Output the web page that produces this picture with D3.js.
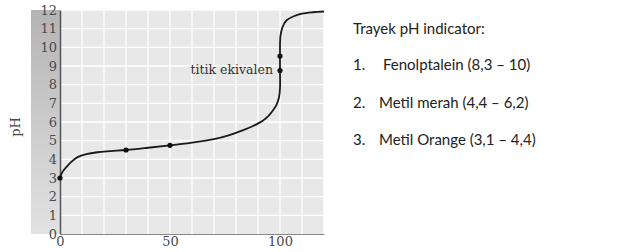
<!DOCTYPE html>
<html>
<head>
<meta charset="utf-8">
<script src="https://cdn.jsdelivr.net/npm/d3@7"></script>
<style>
  body { margin: 0; background: #fff; }
  svg { display: block; }
</style>
</head>
<body>
<svg id="chart" width="629" height="252"></svg>
<script>
// titration curve (volume added, pH)
var curveX = [0, 1, 3, 5, 8, 12, 17, 23, 30, 40, 50, 60, 70, 77, 83, 88, 92, 95, 97, 98.5, 99.5, 100, 100, 100, 100.2, 101.2, 103, 106, 110, 115, 120];
var curveY = [3, 3.3, 3.6, 3.85, 4.12, 4.28, 4.38, 4.44, 4.5, 4.62, 4.75, 4.9, 5.08, 5.3, 5.55, 5.8, 6.05, 6.35, 6.65, 6.95, 7.3, 7.8, 8.76, 9.53, 10.6, 11.1, 11.45, 11.65, 11.8, 11.88, 11.92];
var dotX = [0, 30, 50, 100, 100];
var dotY = [3, 4.5, 4.75, 8.76, 9.53];
var xTicks = [0, 50, 100];
var yTicks = [0, 1, 2, 3, 4, 5, 6, 7, 8, 9, 10, 11, 12];
var xGrid = d3.range(0, 121, 10);
var eqLabel = "titik ekivalen";
var notesTitle = "Trayek pH indicator:";
var notesNum = ["1.", "2.", "3."];
var notesText = ["Fenolptalein (8,3 \u2013 10)", "Metil merah (4,4 \u2013 6,2)", "Metil Orange (3,1 \u2013 4,4)"];

var svg = d3.select("#chart");
var x = d3.scaleLinear().domain([0, 120]).range([60, 324]);
var y = d3.scaleLinear().domain([0, 12]).range([234, 10]);

// gray strip gradient behind the y labels
var grad = svg.append("defs").append("linearGradient")
    .attr("id", "strip").attr("x1", 0).attr("y1", 0).attr("x2", 0).attr("y2", 1);
grad.append("stop").attr("offset", "0%").attr("stop-color", "#b4b4b4");
grad.append("stop").attr("offset", "100%").attr("stop-color", "#e2e2e2");

svg.append("rect")
    .attr("x", 31).attr("y", y(12)).attr("width", x(0) - 31).attr("height", y(0) - y(12))
    .attr("fill", "url(#strip)");

svg.append("rect")
    .attr("x", x(0)).attr("y", y(12)).attr("width", x(120) - x(0)).attr("height", y(0) - y(12))
    .attr("fill", "#e8e8e8");

// grid
svg.append("g").selectAll("line").data(xGrid.slice(1)).join("line")
    .attr("x1", d => x(d)).attr("x2", d => x(d))
    .attr("y1", y(12)).attr("y2", y(0))
    .attr("stroke", "#fff").attr("stroke-width", 1.3);
svg.append("g").selectAll("line").data(yTicks.slice(1)).join("line")
    .attr("x1", x(0)).attr("x2", x(120))
    .attr("y1", d => y(d)).attr("y2", d => y(d))
    .attr("stroke", "#fff").attr("stroke-width", 1.3);

// axes
var yAxis = svg.append("g")
    .attr("transform", "translate(" + x(0) + ",0)")
    .call(d3.axisLeft(y).tickValues(yTicks).tickSize(0).tickPadding(3));
var xAxis = svg.append("g")
    .attr("transform", "translate(0," + y(0) + ")")
    .call(d3.axisBottom(x).tickValues(xTicks).tickSize(0).tickPadding(3));
yAxis.select(".domain").attr("stroke", "#555").attr("stroke-width", 1.5);
xAxis.select(".domain").attr("stroke", "#888").attr("stroke-width", 1.2);
svg.selectAll(".tick text")
    .attr("font-family", "DejaVu Serif, serif").attr("font-size", 13).attr("fill", "#4a4a4a");

svg.append("text")
    .attr("transform", "translate(20,127) rotate(-90)")
    .attr("text-anchor", "middle")
    .attr("font-family", "DejaVu Serif, serif").attr("font-size", 13).attr("fill", "#4a4a4a")
    .text("pH");

// curve
var pts = curveX.map((d, i) => [d, curveY[i]]);
svg.append("path")
    .datum(pts)
    .attr("d", d3.line().x(d => x(d[0])).y(d => y(d[1])).curve(d3.curveCatmullRom.alpha(0.5)))
    .attr("fill", "none").attr("stroke", "#1a1a1a").attr("stroke-width", 1.8);

svg.append("g").selectAll("circle").data(dotX).join("circle")
    .attr("cx", d => x(d)).attr("cy", (d, i) => y(dotY[i])).attr("r", 2.6)
    .attr("fill", "#111");

svg.append("text")
    .attr("x", x(100) - 7).attr("y", y(dotY[3]) + 4)
    .attr("text-anchor", "end")
    .attr("font-family", "DejaVu Serif, serif").attr("font-size", 12.5).attr("fill", "#333")
    .text(eqLabel);

// indicator notes
var notes = svg.append("g")
    .attr("font-family", "Lato, sans-serif").attr("font-size", 15).attr("fill", "#222");
notes.append("text").attr("x", 353).attr("y", 34).text(notesTitle);
notes.selectAll(".num").data(notesNum).join("text")
    .attr("x", 353).attr("y", (d, i) => 70 + i * 37.5).text(d => d);
notes.selectAll(".item").data(notesText).join("text")
    .attr("x", (d, i) => i == 0 ? 383 : 379).attr("y", (d, i) => 70 + i * 37.5).text(d => d);
</script>
</body>
</html>
